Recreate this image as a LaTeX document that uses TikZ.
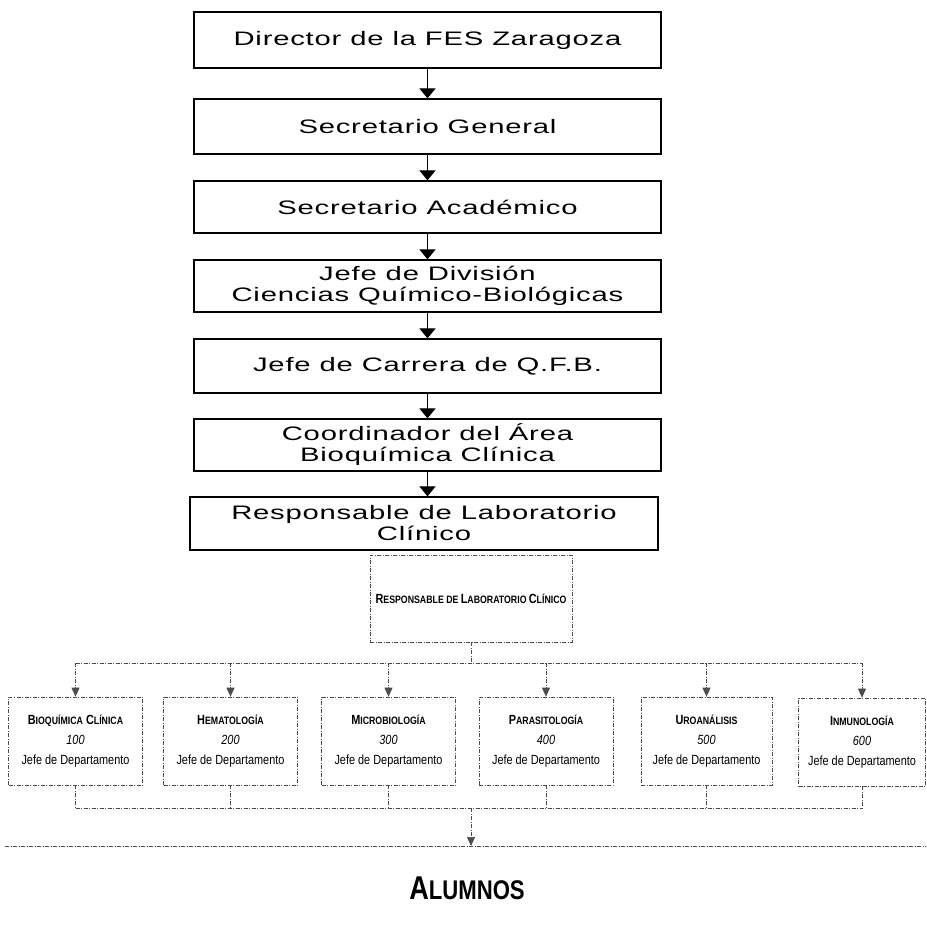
\documentclass[tikz,border=0pt]{standalone}
\usepackage{fontspec}
\setmainfont{Liberation Sans}
% wide, slightly tracked face for the chain of offices
\newfontfamily\widefont[FakeStretch=1.5,LetterSpace=4]{Liberation Sans}
% condensed face for the laboratory part
\newfontfamily\narrowfont[FakeStretch=0.82]{Liberation Sans}
\usetikzlibrary{arrows.meta}
% letters set at a given size (used for hand-made small capitals)
\newcommand\sz[2]{{\fontsize{#1}{#1}\selectfont #2}}
\newcommand\hd[1]{\sz{13.3}{#1}}
\newcommand\lw[1]{\sz{10.7}{#1}}

\begin{document}
\begin{tikzpicture}[x=1pt,y=-1pt,
  rankbox/.style={draw=black,line width=1.2pt,inner sep=0pt,align=center,
    font=\widefont\fontsize{19.5}{21}\selectfont},
  rankarrow/.style={line width=1pt,-{Triangle[width=16pt,length=10pt]}},
  dline/.style={draw=black!70,line width=0.7pt,
    dash pattern=on 4pt off 1.5pt on 1pt off 1.5pt},
  deptbox/.style={dline,inner sep=0pt,align=center,
    minimum width=134pt,minimum height=88pt,
    font=\narrowfont\fontsize{13.3}{20}\selectfont},
  deptarrow/.style={dline,-{Triangle[width=8pt,length=9pt]},
    shorten >=0pt},
]
\useasboundingbox[fill=white] (0,0) rectangle (926,931);

% chain of offices
\node[rankbox,minimum width=467pt,minimum height=56pt] (b1) at (427.5,40)
  {Director de la FES Zaragoza};
\node[rankbox,minimum width=467pt,minimum height=55pt] (b2) at (427.5,126.5)
  {Secretario General};
\node[rankbox,minimum width=467pt,minimum height=52pt] (b3) at (427.5,207)
  {Secretario Académico};
\node[rankbox,minimum width=467pt,minimum height=52pt] (b4) at (427.5,286)
  {Jefe de División\\Ciencias Químico-Biológicas};
\node[rankbox,minimum width=467pt,minimum height=54pt] (b5) at (427.5,366)
  {Jefe de Carrera de Q.F.B.};
\node[rankbox,minimum width=467pt,minimum height=52pt] (b6) at (427.5,445)
  {Coordinador del Área\\Bioquímica Clínica};
\node[rankbox,minimum width=468pt,minimum height=53pt] (b7) at (424,523.5)
  {Responsable de Laboratorio\\Clínico};

\foreach \a/\b in {b1/b2,b2/b3,b3/b4,b4/b5,b5/b6}
  \draw[rankarrow] (\a.south) -- (\b.north);
\draw[rankarrow] (b6.south) -- (b6.south |- b7.north);

% laboratory head
\node[dline,inner sep=0pt,minimum width=202pt,minimum height=87pt,
  font=\narrowfont\bfseries] (lab) at (471,598.5)
  {\hd{R}\lw{ESPONSABLE DE} \hd{L}\lw{ABORATORIO} \hd{C}\lw{LÍNICO}};

% departments
\node[deptbox] (d1) at (75.5,741)
  {{\bfseries\hd{B}\lw{IOQUÍMICA} \hd{C}\lw{LÍNICA}}\\\itshape 100\\Jefe de Departamento};
\node[deptbox] (d2) at (230.5,741)
  {{\bfseries\hd{H}\lw{EMATOLOGÍA}}\\\itshape 200\\Jefe de Departamento};
\node[deptbox] (d3) at (388.5,741)
  {{\bfseries\hd{M}\lw{ICROBIOLOGÍA}}\\\itshape 300\\Jefe de Departamento};
\node[deptbox] (d4) at (546,741)
  {{\bfseries\hd{P}\lw{ARASITOLOGÍA}}\\\itshape 400\\Jefe de Departamento};
\node[deptbox,minimum width=131pt] (d5) at (706.5,741)
  {{\bfseries\hd{U}\lw{ROANÁLISIS}}\\\itshape 500\\Jefe de Departamento};
\node[deptbox,minimum width=127pt] (d6) at (862,742)
  {{\bfseries\hd{I}\lw{NMUNOLOGÍA}}\\\itshape 600\\Jefe de Departamento};

% distribution bus
\coordinate (busA) at (471,663);
\draw[dline] (lab.south) -- (busA);
\draw[dline] (d1.north |- busA) -- (d6.north |- busA);
\foreach \d in {d1,d2,d3,d4,d5,d6}
  \draw[deptarrow] (\d.north |- busA) -- (\d.north);

% collecting bus
\coordinate (busB) at (471,808);
\draw[dline] (d1.south |- busB) -- (d6.south |- busB);
\foreach \d in {d1,d2,d3,d4,d5,d6}
  \draw[dline] (\d.south) -- (\d.south |- busB);
\coordinate (floor) at (471,846);
\coordinate (floorL) at (5,846);
\coordinate (floorR) at (926,846);
\draw[dline] (floorL) -- (floorR);
\draw[deptarrow] (busB) -- (floor);

\node[font=\narrowfont\bfseries,anchor=base] (alum) at (467,899)
  {\sz{33}{A}\sz{27}{LUMNOS}};
\end{tikzpicture}
\end{document}
